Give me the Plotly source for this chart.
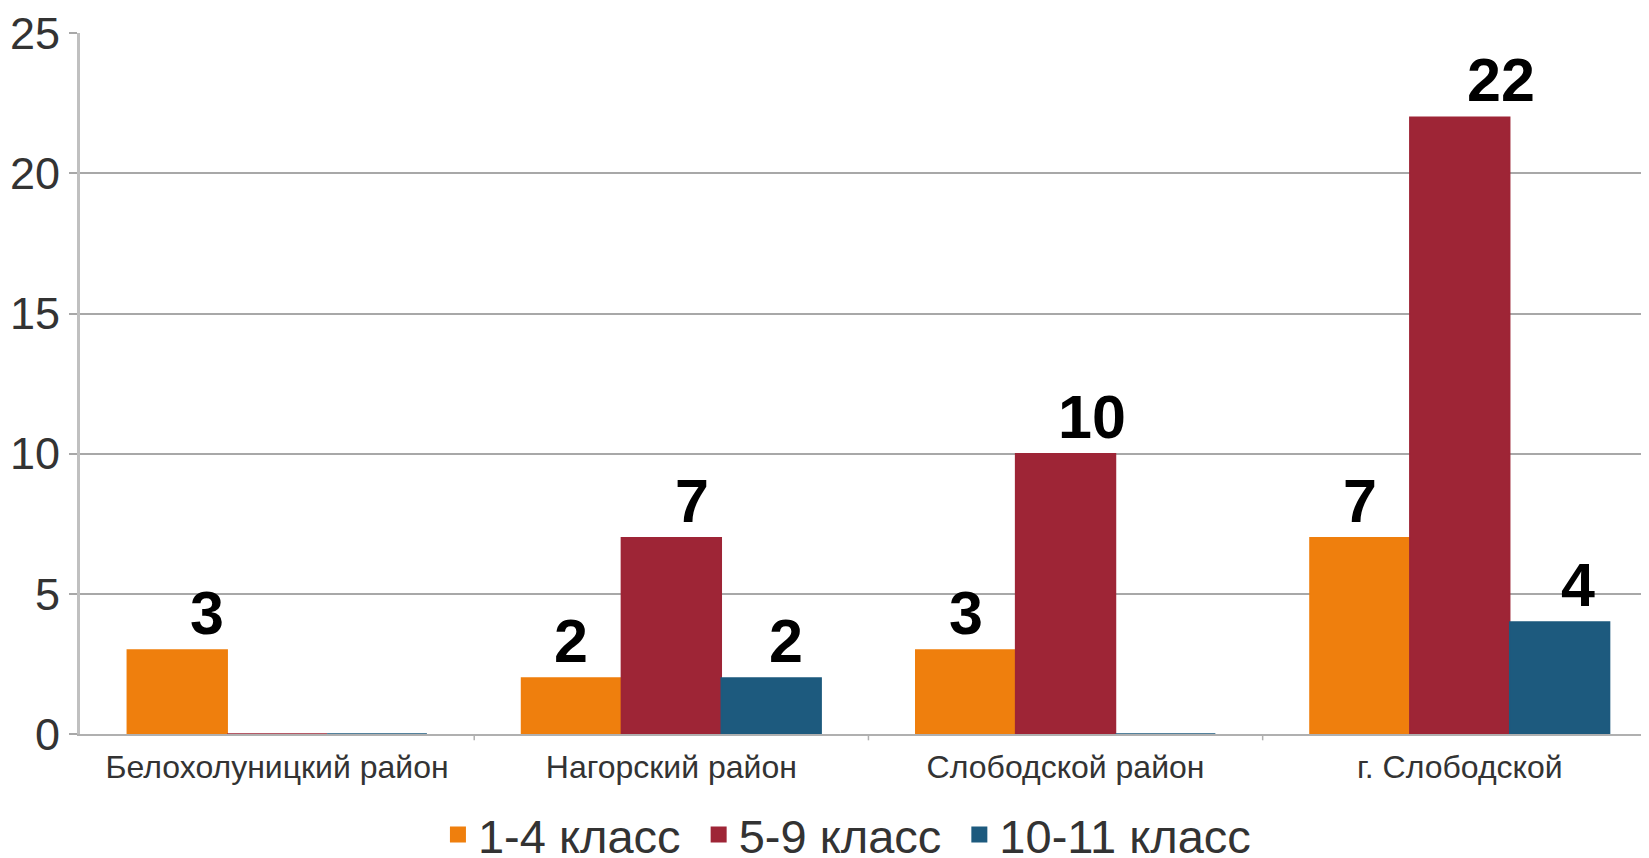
import plotly.graph_objects as go

categories = ["Белохолуницкий район", "Нагорский район", "Слободской район", "г. Слободской"]
series_names = ["1-4 класс", "5-9 класс", "10-11 класс"]
grade_1_4 = [3, 2, 3, 7]
grade_5_9 = [0, 7, 10, 22]
grade_10_11 = [0, 2, 0, 4]
y_ticks = [0, 5, 10, 15, 20, 25]

# styling
colors = ["#EF7F0D", "#9E2536", "#1D5A7E"]
label_xshift = [[30, 0, 0], [0, 21, 15], [0, 26, 0], [0, 41, 18]]
BARGAP = 0.24
FONT = "Liberation Sans, Arial, sans-serif"

series = [grade_1_4, grade_5_9, grade_10_11]
x_idx = list(range(len(categories)))

fig = go.Figure()
for name, vals, col in zip(series_names, series, colors):
    fig.add_trace(go.Bar(
        x=x_idx, y=vals, name=name, legendgroup=name, showlegend=False,
        marker=dict(color=col, line=dict(color=col, width=1.5)),
    ))
# legend entries with larger square swatches (a trailing no-break space widens the item gap)
for name, col in zip(series_names, colors):
    fig.add_trace(go.Scatter(
        x=[None], y=[None], mode="markers", name=name + "\u00a0", legendgroup=name,
        marker=dict(symbol="square", size=17, color=col),
        hoverinfo="skip",
    ))

bar_w = (1 - BARGAP) / len(series)
annotations = []
for j, vals in enumerate(series):
    for i, v in enumerate(vals):
        if v == 0:
            continue
        annotations.append(dict(
            x=i + (j - 1) * bar_w, y=v, xref="x", yref="y",
            text=f"<b>{v}</b>", showarrow=False,
            yanchor="bottom", xanchor="center",
            xshift=label_xshift[i][j], yshift=1,
            font=dict(family=FONT, size=61, color="#000000"),
        ))

# the page body has an 8px margin, so the figure is sized/offset to compensate
fig.update_layout(
    template="none",
    width=1641, height=850,
    margin=dict(l=72, r=0, t=25, b=124, autoexpand=False),
    paper_bgcolor="white", plot_bgcolor="white",
    barmode="group", bargap=BARGAP, bargroupgap=0,
    showlegend=True,
    legend=dict(
        orientation="h", xref="container", yref="container",
        x=0.262, y=0.027, xanchor="left", yanchor="middle",
        font=dict(family=FONT, size=47, color="#333333"),
        itemwidth=30, itemsizing="trace", tracegroupgap=0,
        bgcolor="rgba(0,0,0,0)",
    ),
    annotations=annotations,
)
fig.update_xaxes(
    type="linear", range=[-0.5, 3.48], automargin=False,
    tickmode="array", tickvals=x_idx, ticktext=categories,
    showgrid=False, zeroline=False,
    showline=True, linecolor="#b0b0b0", linewidth=2,
    ticks="", ticklabelstandoff=4,
    tickfont=dict(family=FONT, size=32, color="#333333"),
    fixedrange=True,
)
# boundary ticks between categories
for b in [0.5, 1.5, 2.5]:
    fig.add_shape(type="line", xref="x", yref="paper", x0=b, x1=b, y0=0, y1=-0.009,
                  line=dict(color="#b0b0b0", width=1.5))
fig.update_yaxes(
    range=[0, 25.01], tickmode="array", tickvals=y_ticks, automargin=False,
    ticklabeloverflow="allow",
    showgrid=True, gridcolor="#a8a8a8", gridwidth=2,
    zeroline=False,
    showline=True, linecolor="#c0c0c0", linewidth=3,
    ticks="outside", ticklen=8, tickcolor="#a8a8a8", tickwidth=2,
    tickfont=dict(family=FONT, size=45, color="#333333"),
)

fig.write_html("out.html")
